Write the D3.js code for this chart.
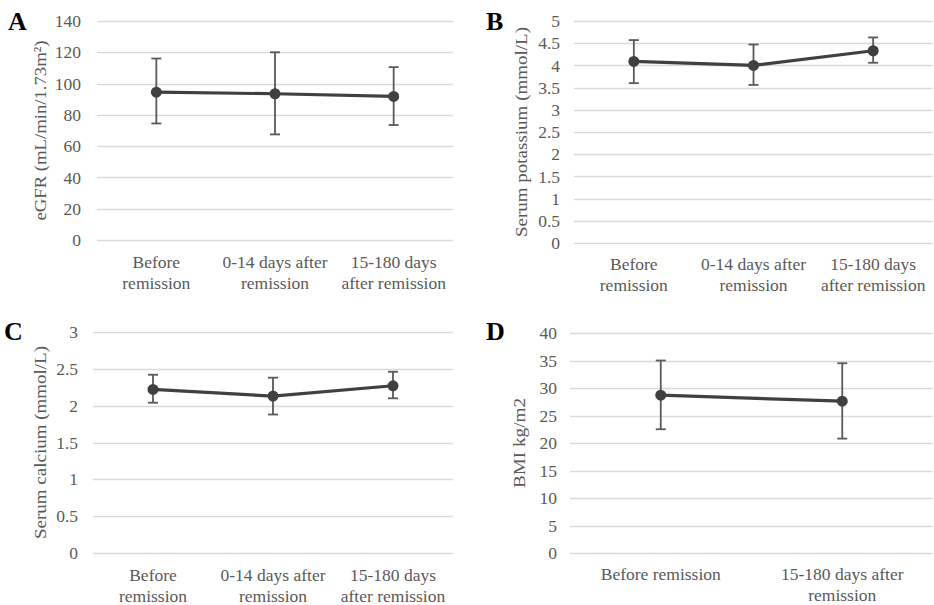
<!DOCTYPE html>
<html>
<head>
<meta charset="utf-8">
<script src="https://cdn.jsdelivr.net/npm/d3@7"></script>
<style>
  body { margin: 0; background: #fff; }
  svg { display: block; }
  text { font-family: "Liberation Serif", "DejaVu Serif", serif; }
  .grid line { stroke: #d9d9d9; stroke-width: 1.3; }
  .tick-label, .cat-label { fill: #595959; font-size: 17.5px; }
  .y-title { fill: #595959; font-size: 17px; }
  .panel-letter { fill: #000; font-size: 26px; font-weight: bold; }
</style>
</head>
<body>
<svg id="chart" width="934" height="605"></svg>
<script>
// shared categories
const cats3 = ['Before remission', '0-14 days after remission', '15-180 days after remission'];
const cats2 = ['Before remission', '15-180 days after remission'];

// category label lines, as printed
const labels3 = [['Before', 'remission'], ['0-14 days after', 'remission'], ['15-180 days', 'after remission']];
const labels2 = [['Before remission'], ['15-180 days after', 'remission']];

// A: eGFR
const egfrMean = [94.5, 93.5, 91.8];
const egfrHigh = [116, 120, 110.5];
const egfrLow = [74.5, 67.5, 73.5];
const egfrTicks = [0, 20, 40, 60, 80, 100, 120, 140];

// B: serum potassium
const kMean = [4.09, 4.0, 4.33];
const kHigh = [4.57, 4.47, 4.63];
const kLow = [3.6, 3.56, 4.06];
const kTicks = [0, 0.5, 1, 1.5, 2, 2.5, 3, 3.5, 4, 4.5, 5];

// C: serum calcium
const caMean = [2.22, 2.13, 2.27];
const caHigh = [2.42, 2.38, 2.46];
const caLow = [2.04, 1.88, 2.1];
const caTicks = [0, 0.5, 1, 1.5, 2, 2.5, 3];

// D: BMI
const bmiMean = [28.7, 27.6];
const bmiHigh = [35, 34.5];
const bmiLow = [22.5, 20.8];
const bmiTicks = [0, 5, 10, 15, 20, 25, 30, 35, 40];

const panels = [
  { letter: 'A', lx: 8, ly: 30, left: 97, right: 453, top: 21, bottom: 240, tickX: 81, titleX: 46,
    title: 'eGFR (mL/min/1.73m²)', titleLen: 180, cats: cats3, labels: labels3,
    mean: egfrMean, high: egfrHigh, low: egfrLow, ticks: egfrTicks, labelY: 268 },
  { letter: 'B', lx: 486, ly: 30, left: 574, right: 933, top: 21, bottom: 243, tickX: 560, titleX: 527,
    title: 'Serum potassium (mmol/L)', titleLen: 210, cats: cats3, labels: labels3,
    mean: kMean, high: kHigh, low: kLow, ticks: kTicks, labelY: 270 },
  { letter: 'C', lx: 4, ly: 340, left: 93, right: 453, top: 332, bottom: 553, tickX: 78, titleX: 46,
    title: 'Serum calcium (mmol/L)', titleLen: 193, cats: cats3, labels: labels3,
    mean: caMean, high: caHigh, low: caLow, ticks: caTicks, labelY: 581 },
  { letter: 'D', lx: 486, ly: 340, left: 570, right: 933, top: 333, bottom: 553, tickX: 557, titleX: 525,
    title: 'BMI  kg/m2', titleLen: 90, cats: cats2, labels: labels2,
    mean: bmiMean, high: bmiHigh, low: bmiLow, ticks: bmiTicks, labelY: 580 }
];

const svg = d3.select('#chart');

panels.forEach((p) => {
  const g = svg.append('g');
  const maxTick = p.ticks[p.ticks.length - 1];

  const x = d3.scaleBand().domain(p.cats).range([p.left, p.right]);
  const y = d3.scaleLinear().domain([0, maxTick]).range([p.bottom, p.top]);

  // gridlines
  g.append('g').attr('class', 'grid')
    .selectAll('line')
    .data(p.ticks)
    .join('line')
    .attr('x1', p.left)
    .attr('x2', p.right)
    .attr('y1', d => Math.round(y(d)) + 0.5)
    .attr('y2', d => Math.round(y(d)) + 0.5);

  // y tick labels
  g.selectAll('.tick-label')
    .data(p.ticks)
    .join('text')
    .attr('class', 'tick-label')
    .attr('x', p.tickX)
    .attr('y', d => y(d))
    .attr('dy', '0.35em')
    .attr('text-anchor', 'end')
    .text(d => d);

  // y-axis title
  const midY = (p.top + p.bottom) / 2;
  g.append('text')
    .attr('class', 'y-title')
    .attr('transform', `translate(${p.titleX},${midY}) rotate(-90)`)
    .attr('text-anchor', 'middle')
    .attr('textLength', p.titleLen)
    .attr('lengthAdjust', 'spacingAndGlyphs')
    .text(p.title);

  // category labels
  p.cats.forEach((c, i) => {
    const t = g.append('text')
      .attr('class', 'cat-label')
      .attr('x', x(c) + x.bandwidth() / 2)
      .attr('y', p.labelY)
      .attr('text-anchor', 'middle');
    p.labels[i].forEach((line, j) => {
      t.append('tspan')
        .attr('x', x(c) + x.bandwidth() / 2)
        .attr('dy', j === 0 ? 0 : 21)
        .text(line);
    });
  });

  const data = p.cats.map((c, i) => ({ cat: c, mean: p.mean[i], high: p.high[i], low: p.low[i] }));
  const cx = d => x(d.cat) + x.bandwidth() / 2;

  // error bars
  const eb = g.append('g').attr('stroke', '#595959').attr('stroke-width', 1.8);
  eb.selectAll('.stem')
    .data(data)
    .join('line')
    .attr('x1', cx).attr('x2', cx)
    .attr('y1', d => y(d.high)).attr('y2', d => y(d.low));
  eb.selectAll('.cap-high')
    .data(data)
    .join('line')
    .attr('x1', d => cx(d) - 5).attr('x2', d => cx(d) + 5)
    .attr('y1', d => y(d.high)).attr('y2', d => y(d.high));
  eb.selectAll('.cap-low')
    .data(data)
    .join('line')
    .attr('x1', d => cx(d) - 5).attr('x2', d => cx(d) + 5)
    .attr('y1', d => y(d.low)).attr('y2', d => y(d.low));

  // mean line
  const line = d3.line().x(cx).y(d => y(d.mean));
  g.append('path')
    .datum(data)
    .attr('fill', 'none')
    .attr('stroke', '#404040')
    .attr('stroke-width', 3.2)
    .attr('d', line);

  g.selectAll('.dot')
    .data(data)
    .join('circle')
    .attr('class', 'dot')
    .attr('cx', cx)
    .attr('cy', d => y(d.mean))
    .attr('r', 5.5)
    .attr('fill', '#404040');

  // panel letter
  g.append('text')
    .attr('class', 'panel-letter')
    .attr('x', p.lx)
    .attr('y', p.ly)
    .text(p.letter);
});
</script>
</body>
</html>
